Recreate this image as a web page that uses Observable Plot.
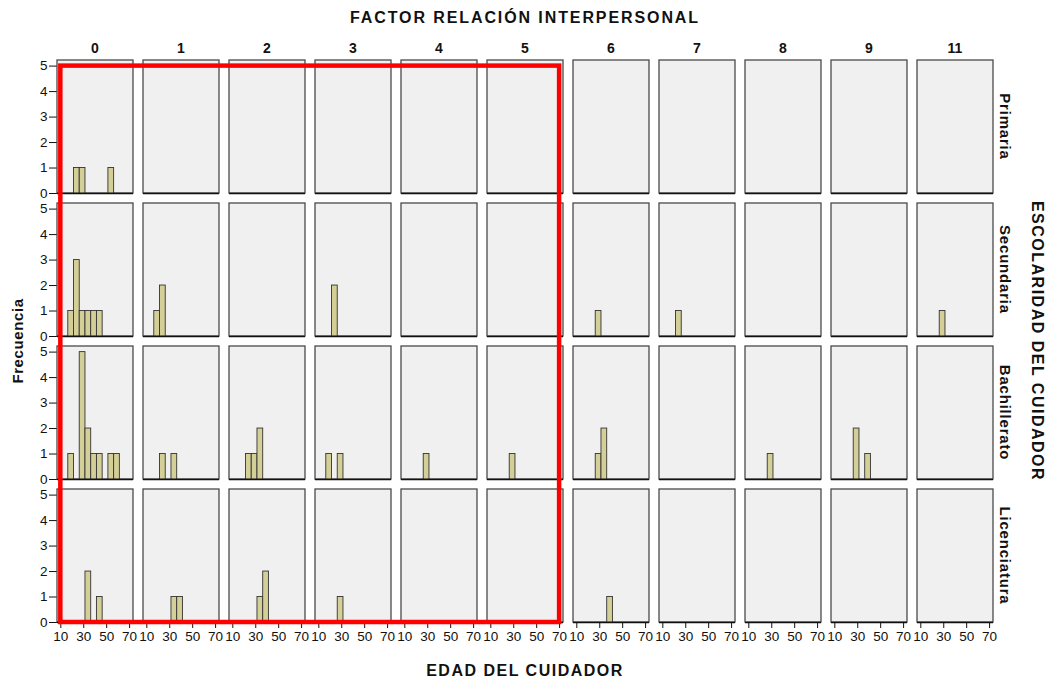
<!DOCTYPE html>
<html><head><meta charset="utf-8">
<script src="https://cdn.jsdelivr.net/npm/d3@7"></script>
<script src="https://cdn.jsdelivr.net/npm/@observablehq/plot@0.6"></script>
<style>body{margin:0;background:#fff;} svg{display:block;}
g[aria-label="x-axis tick label"], g[aria-label="y-axis tick label"] { font-size: 13.5px; fill: #111; }
</style>
</head><body><div id="chart"></div>
<script>
const factores = [0,1,2,3,4,5,6,7,8,9,11];
const escolaridad = ["Primaria","Secundaria","Bachillerato","Licenciatura"];
const edadTicks = [10,30,50,70];
const frecTicks = [0,1,2,3,4,5];
const anchoClase = 5;
// [factor, edad (centro de la clase), frecuencia]
const primaria = [[0,24,1],[0,29,1],[0,54,1]];
const secundaria = [[0,19,1],[0,24,3],[0,29,1],[0,34,1],[0,39,1],[0,44,1],[1,19,1],[1,24,2],[3,24,2],[6,29,1],[7,24,1],[11,29,1]];
const bachillerato = [[0,19,1],[0,29,5],[0,34,2],[0,39,1],[0,44,1],[0,54,1],[0,59,1],[1,24,1],[1,34,1],[2,24,1],[2,29,1],[2,34,2],[3,19,1],[3,29,1],[4,29,1],[5,29,1],[6,29,1],[6,34,2],[8,29,1],[9,29,2],[9,39,1]];
const licenciatura = [[0,34,2],[0,44,1],[1,34,1],[1,39,1],[2,34,1],[2,39,2],[3,29,1],[6,39,1]];
const titulo = "FACTOR RELACIÓN INTERPERSONAL";
const tituloFilas = "ESCOLARIDAD DEL CUIDADOR";
const tituloX = "EDAD DEL CUIDADOR";
const tituloY = "Frecuencia";
const resaltados = {factorDesde: 0, factorHasta: 5, edadDesde: 10, edadHasta: 70, frecDesde: 0, frecHasta: 5};

const filas = [primaria, secundaria, bachillerato, licenciatura];
const data = escolaridad.flatMap((e, i) => filas[i].map(([f, edad, n]) => ({factor: f, escolaridad: e, edad, n})));
const grid = escolaridad.flatMap(e => factores.map(f => ({factor: f, escolaridad: e})));

const W = 1047, H = 678, mL = 56, mR = 53, mT = 60, mB = 56;
const FONT = "'Liberation Sans', Arial, sans-serif";

const plot = Plot.plot({
  width: W, height: H,
  marginLeft: mL, marginRight: mR, marginTop: mT, marginBottom: mB,
  style: {fontFamily: FONT, fontSize: "13px", color: "#111", background: "#fff"},
  fx: {domain: factores, paddingInner: 0.12, paddingOuter: 0, axis: null},
  fy: {domain: escolaridad, paddingInner: 0.07, paddingOuter: 0, axis: null},
  x: {domain: [7.1, 73.4], ticks: edadTicks, tickFormat: d => String(d), tickSize: 6, tickPadding: 3, label: null},
  y: {domain: [0, 5.22], ticks: frecTicks, tickFormat: d => String(d), tickSize: 8, tickPadding: 2, label: null},
  marks: [
    Plot.rect(grid, {fx: "factor", fy: "escolaridad", fill: "#f0f0f0", stroke: "#4a4a4a", strokeWidth: 1.3}),
    Plot.rectY(data, {x1: d => d.edad - anchoClase / 2, x2: d => d.edad + anchoClase / 2, y: "n", fx: "factor", fy: "escolaridad", fill: "#d3cf97", stroke: "#333", strokeWidth: 0.9}),
    Plot.ruleY([0], {stroke: "#111", strokeWidth: 1.4})
  ]
});

const svg = d3.select(plot);
const fx = plot.scale("fx"), fy = plot.scale("fy"), x = plot.scale("x"), y = plot.scale("y");
const bw = fx.bandwidth, bh = fy.bandwidth;
const cx = (W + mL - mR) / 2;

// titles & facet labels
const g = svg.append("g").attr("font-family", FONT).attr("fill", "#111").attr("font-weight", "bold");
g.append("text").attr("x", cx).attr("y", 23).attr("text-anchor", "middle").attr("font-size", 16).attr("letter-spacing", 1.9).text(titulo);
factores.forEach(f => {
  g.append("text").attr("x", fx.apply(f) + bw / 2).attr("y", 53).attr("text-anchor", "middle").attr("font-size", 14).text(f);
});
escolaridad.forEach(e => {
  const yc = fy.apply(e) + bh / 2;
  g.append("text").attr("transform", `translate(1000,${yc}) rotate(90)`).attr("text-anchor", "middle").attr("font-size", 15).attr("letter-spacing", 0.8).text(e);
});
g.append("text").attr("transform", `translate(1032,${(mT + H - mB) / 2}) rotate(90)`).attr("text-anchor", "middle").attr("font-size", 16).attr("letter-spacing", 1.5).text(tituloFilas);
g.append("text").attr("transform", `translate(23,${(mT + H - mB) / 2}) rotate(-90)`).attr("text-anchor", "middle").attr("font-size", 15).attr("letter-spacing", 0.6).text(tituloY);
g.append("text").attr("x", cx).attr("y", 676).attr("text-anchor", "middle").attr("font-size", 16).attr("letter-spacing", 1.5).text(tituloX);

// red highlight rectangle
const x0 = fx.apply(resaltados.factorDesde) - mL + x.apply(resaltados.edadDesde);
const x1 = fx.apply(resaltados.factorHasta) - mL + x.apply(resaltados.edadHasta);
const y0 = fy.apply(escolaridad[0]) - mT + y.apply(resaltados.frecHasta);
const y1 = fy.apply(escolaridad[escolaridad.length - 1]) - mT + y.apply(resaltados.frecDesde);
svg.append("rect").attr("x", x0).attr("y", y0).attr("width", x1 - x0).attr("height", y1 - y0)
  .attr("fill", "none").attr("stroke", "#ff0000").attr("stroke-width", 4.5);

document.getElementById("chart").appendChild(plot);
</script>
</body></html>
